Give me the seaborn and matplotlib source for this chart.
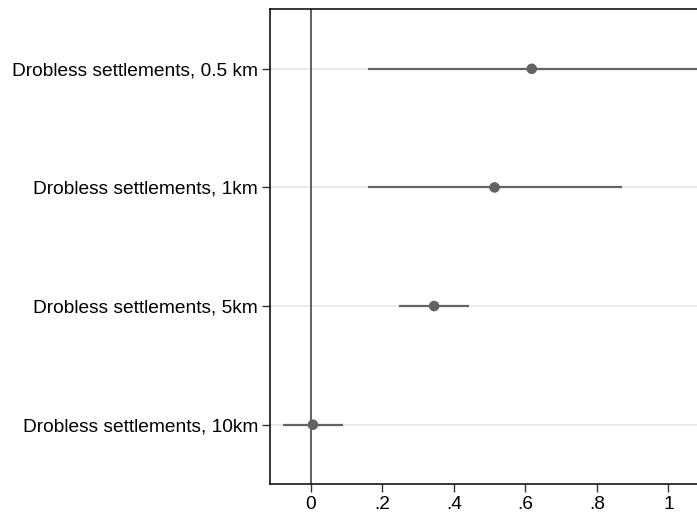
import matplotlib
matplotlib.use("Agg")
import matplotlib.pyplot as plt
import seaborn as sns
import pandas as pd

labels = ["Drobless settlements, 0.5 km", "Drobless settlements, 1km",
          "Drobless settlements, 5km", "Drobless settlements, 10km"]
estimates = [0.618, 0.514, 0.345, 0.006]
ci_low = [0.161, 0.161, 0.248, -0.079]
ci_high = [1.10, 0.870, 0.443, 0.089]
xticks = [0, 0.2, 0.4, 0.6, 0.8, 1.0]
xticklabels = ["0", ".2", ".4", ".6", ".8", "1"]

sns.set_style("white")
plt.rcParams['font.family'] = ['Liberation Sans', 'DejaVu Sans']

df = pd.DataFrame({"label": labels, "est": estimates, "lo": ci_low, "hi": ci_high})
df["pos"] = range(1, len(df) + 1)

fig = plt.figure(figsize=(6.97, 5.14), dpi=100)
W, H = 697, 514
left, right, top, bottom = 270, 697, 9.5, 484
ax = fig.add_axes([left / W, 1 - bottom / H, (right - left) / W, (bottom - top) / H])

# y gridlines
for p in df["pos"]:
    ax.axhline(p, color="#e3e3e3", lw=1.1, zorder=0)
ax.axvline(0, color="#555555", lw=1.3, zorder=1)

ax.hlines(df["pos"], df["lo"], df["hi"], color="#636363", lw=1.6, zorder=2)
sns.scatterplot(data=df, x="est", y="pos", ax=ax, color="#636363", s=58,
                edgecolor="none", zorder=3, legend=False)

x0 = -0.114
x1 = x0 + (right - left) / 357.6
ax.set_xlim(x0, x1)
ax.set_ylim(4.5, 0.5)
ax.set_xticks(xticks)
ax.set_xticklabels(xticklabels)
ax.set_yticks(df["pos"])
ax.set_yticklabels(df["label"])
ax.set_xlabel("")
ax.set_ylabel("")
ax.tick_params(axis="both", which="major", length=5.5, width=1, color="#333333",
               labelsize=13.8, labelcolor="black", direction="out", pad=3, left=True, bottom=True)
ax.spines["right"].set_visible(False)
for s in ["left", "top", "bottom"]:
    ax.spines[s].set_color("black")
    ax.spines[s].set_linewidth(1.1)

fig.savefig("out.png", dpi=100)
